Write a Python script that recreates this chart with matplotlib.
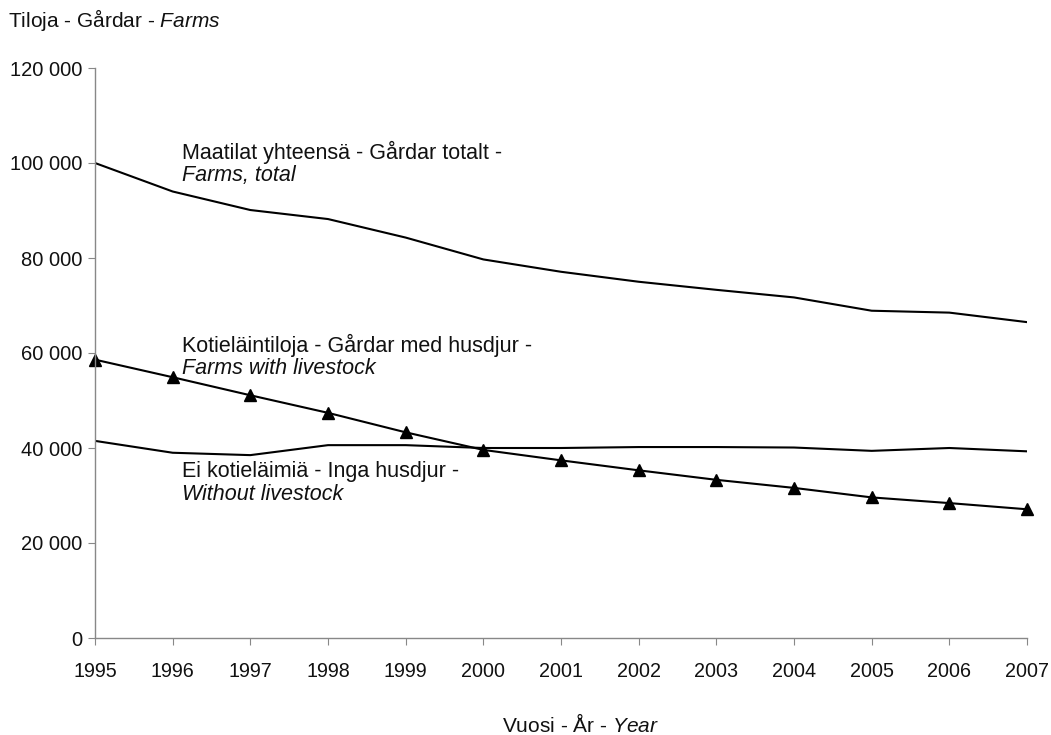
import matplotlib
matplotlib.use("Agg")
import matplotlib.pyplot as plt

years = [1995, 1996, 1997, 1998, 1999, 2000, 2001, 2002, 2003, 2004, 2005, 2006, 2007]
farms_total = [100000, 94000, 90100, 88200, 84300, 79700, 77100, 75000, 73300, 71700, 68900, 68500, 66500]
with_livestock = [58600, 54900, 51100, 47400, 43300, 39600, 37400, 35300, 33300, 31600, 29600, 28400, 27100]
without_livestock = [41500, 39000, 38500, 40600, 40600, 40000, 40000, 40200, 40200, 40100, 39400, 40000, 39300]
yticks = [0, 20000, 40000, 60000, 80000, 100000, 120000]
ytick_labels = ["0", "20 000", "40 000", "60 000", "80 000", "100 000", "120 000"]

plt.rcParams['font.family'] = ['Liberation Sans', 'DejaVu Sans']
plt.rcParams['mathtext.fontset'] = 'custom'
plt.rcParams['mathtext.rm'] = 'Liberation Sans'
plt.rcParams['mathtext.it'] = 'Liberation Sans:italic'

fig = plt.figure(figsize=(10.51, 7.35), dpi=100)
ax = fig.add_axes([95/1051, 1-638/735, (1027-95)/1051, (638-68)/735])

ax.plot(years, farms_total, color='black', lw=1.5)
ax.plot(years, without_livestock, color='black', lw=1.5)
ax.plot(years, with_livestock, color='black', lw=1.5, marker='^', markersize=9, clip_on=False)

ax.set_xlim(1995, 2007)
ax.set_ylim(0, 120000)
ax.set_xticks(years)
ax.set_xticklabels([str(y) for y in years], fontsize=14.2)
ax.set_yticks(yticks)
ax.set_yticklabels(ytick_labels, fontsize=14.5)
for s in ['top', 'right']:
    ax.spines[s].set_visible(False)
for s in ['left', 'bottom']:
    ax.spines[s].set_color('#888888')
    ax.spines[s].set_linewidth(1)
ax.tick_params(axis='both', direction='out', length=5, color='#888888', labelcolor='#111111')
ax.tick_params(axis='x', pad=12)
ax.tick_params(axis='y', pad=4)

fs = 15.5
def label(x, y, line1, line2):
    fig.text(x/1051, 1-y/735, line1, fontsize=fs, va='center', ha='left', color='#111111')
    fig.text(x/1051, 1-(y+23)/735, line2, fontsize=fs, va='center', ha='left', style='italic', color='#111111')

label(182, 152, "Maatilat yhteensä - Gårdar totalt -", "Farms, total")
label(182, 345, "Kotieläintiloja - Gårdar med husdjur -", "Farms with livestock")
label(182, 472, "Ei kotieläimiä - Inga husdjur -", "Without livestock")

fig.text(8/1051, 1-20/735, r"Tiloja - Gårdar - $\mathit{Farms}$", fontsize=15, va='center', ha='left', color='#111111')
fig.text(580/1051, 1-724/735, r"Vuosi - År - $\mathit{Year}$", fontsize=15, va='center', ha='center', color='#111111')

fig.savefig("out.png", dpi=100, facecolor='white')
